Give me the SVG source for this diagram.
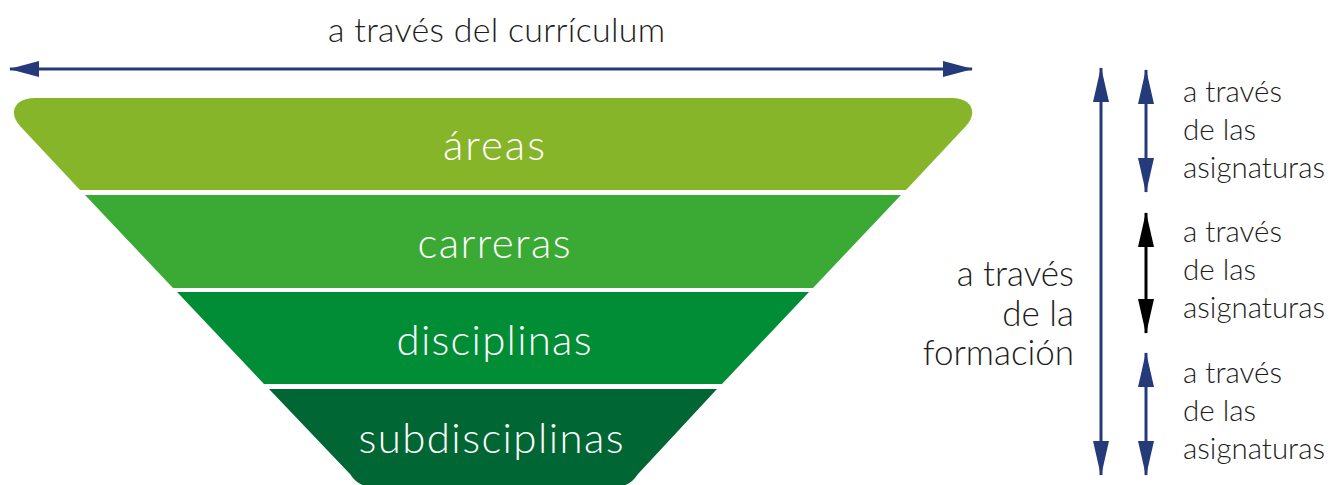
<svg xmlns="http://www.w3.org/2000/svg" width="1333" height="485" viewBox="0 0 1333 485">
<style>
.lbl{font-family:Lato,"Open Sans",sans-serif;font-weight:300;fill:#ffffff;font-size:42px;text-anchor:middle}
.txt{font-family:Lato,"Open Sans",sans-serif;font-weight:300;fill:#1d1d1b}
.sm{font-size:29.5px}
.big{font-size:35px}
.top{font-size:34px}
.nav{stroke:#243a7b;stroke-width:3;fill:none}
.blk{stroke:#000000;stroke-width:3;fill:none}
</style>
<defs>
<marker id="ah" viewBox="0 0 30 16" refX="29" refY="8" markerWidth="30" markerHeight="16" markerUnits="userSpaceOnUse" orient="auto-start-reverse">
<path d="M0,0 L30,8 L0,16 Z" fill="#243a7b"/>
</marker>
<marker id="av" viewBox="0 0 35 16" refX="34" refY="8" markerWidth="35" markerHeight="16" markerUnits="userSpaceOnUse" orient="auto-start-reverse">
<path d="M0,0 L35,8 L0,16 Z" fill="#243a7b"/>
</marker>
<marker id="ab" viewBox="0 0 35 16" refX="34" refY="8" markerWidth="35" markerHeight="16" markerUnits="userSpaceOnUse" orient="auto-start-reverse">
<path d="M0,0 L35,8 L0,16 Z" fill="#000000"/>
</marker>
</defs>
<rect width="1333" height="485" fill="#ffffff"/>
<g id="areas">
<path d="M35,98 H952 C972,98 978,113 966,126 L906,190 H80 L20,126 C8,113 14,98 35,98 Z" fill="#87b52a"/>
<text class="lbl" x="494" y="160" textLength="102">áreas</text>
</g>
<g id="carreras">
<path d="M85,195 H901 L813,288 H173 Z" fill="#3aaa35"/>
<text class="lbl" x="494" y="258" textLength="153">carreras</text>
</g>
<g id="disciplinas">
<path d="M177,292 H809 L722,384 H264 Z" fill="#008d36"/>
<text class="lbl" x="494" y="355" textLength="195">disciplinas</text>
</g>
<g id="subdisciplinas">
<path d="M269,389 H717 L638,474 Q630,486 620,486 H368 Q358,486 350,474 Z" fill="#006633"/>
<text class="lbl" x="491" y="453" textLength="265">subdisciplinas</text>
</g>
<g id="labels">
<text class="txt top" x="496.5" y="42" text-anchor="middle" textLength="337">a través del currículum</text>
<text class="txt big" x="1074" y="286" text-anchor="end">a través</text>
<text class="txt big" x="1074" y="326" text-anchor="end">de la</text>
<text class="txt big" x="1074" y="365" text-anchor="end">formación</text>
<text class="txt sm" x="1183" y="102">a través</text>
<text class="txt sm" x="1183" y="140">de las</text>
<text class="txt sm" x="1183" y="178">asignaturas</text>
<text class="txt sm" x="1183" y="242">a través</text>
<text class="txt sm" x="1183" y="280">de las</text>
<text class="txt sm" x="1183" y="318">asignaturas</text>
<text class="txt sm" x="1183" y="383">a través</text>
<text class="txt sm" x="1183" y="421">de las</text>
<text class="txt sm" x="1183" y="459">asignaturas</text>
</g>
<g id="connectors">
<line class="nav" x1="10" y1="69" x2="972" y2="69" marker-start="url(#ah)" marker-end="url(#ah)"/>
<line class="nav" x1="1101" y1="68" x2="1101" y2="475" marker-start="url(#av)" marker-end="url(#av)"/>
<line class="nav" x1="1146" y1="70" x2="1146" y2="192" marker-start="url(#av)" marker-end="url(#av)"/>
<line class="blk" x1="1146" y1="213" x2="1146" y2="333" marker-start="url(#ab)" marker-end="url(#ab)"/>
<line class="nav" x1="1146" y1="353" x2="1146" y2="475" marker-start="url(#av)" marker-end="url(#av)"/>
</g>
</svg>
